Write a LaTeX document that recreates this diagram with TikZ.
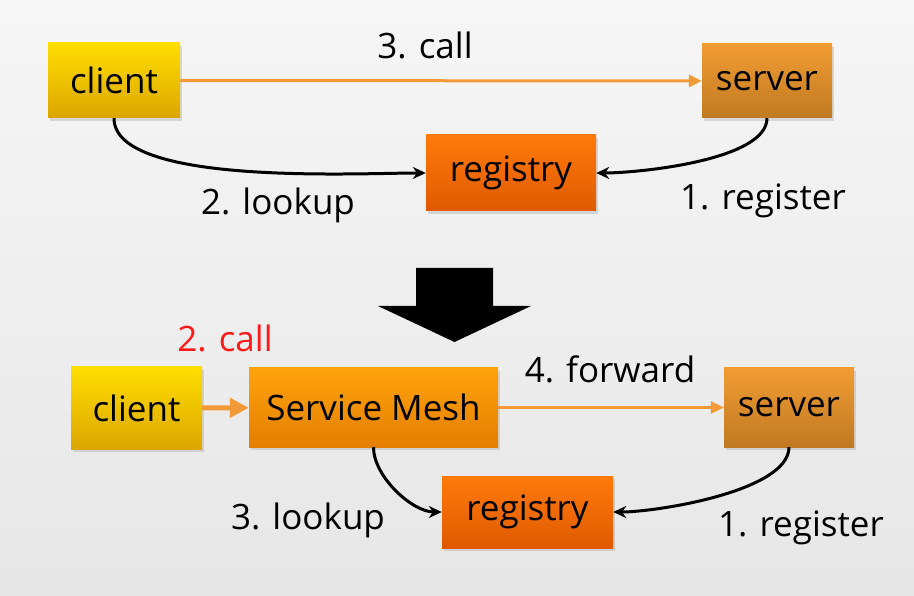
\documentclass[tikz,border=0pt]{standalone}
\usepackage{fontspec}
\setmainfont{Open Sans}
\usetikzlibrary{arrows.meta,shadows}

\definecolor{clientyel}{HTML}{FFDE00}
\definecolor{clientdark}{HTML}{DBA600}
\definecolor{servertop}{HTML}{F19C33}
\definecolor{serverbot}{HTML}{C07A22}
\definecolor{regtop}{HTML}{FF7A0A}
\definecolor{regbot}{HTML}{DF5A00}
\definecolor{meshtop}{HTML}{FFA30C}
\definecolor{meshbot}{HTML}{E47E00}
\definecolor{callorange}{HTML}{F29A38}
\definecolor{callred}{HTML}{FF1A1A}

\tikzset{
  box/.style={inner sep=0pt, font=\fontsize{35}{40}\selectfont,
    drop shadow={opacity=0.25, shadow xshift=2pt, shadow yshift=-3pt}},
  clientbox/.style={box, top color=clientyel, bottom color=clientdark},
  serverbox/.style={box, top color=servertop, bottom color=serverbot},
  regbox/.style={box, top color=regtop, bottom color=regbot},
  meshbox/.style={box, top color=meshtop, bottom color=meshbot},
  lbl/.style={font=\fontsize{35}{40}\selectfont},
  callarrow/.style={draw=callorange, line width=3pt, -{Triangle[length=13pt,width=12pt]}},
  lookarrow/.style={draw=black, line width=3pt, -{Stealth[length=13pt,width=12pt]}},
}

\begin{document}
\begin{tikzpicture}[x=1pt, y=-1pt]
  \shade[top color=gray!7, bottom color=gray!19] (0,0) rectangle (914,596);
  \useasboundingbox (0,0) rectangle (914,596);

  % before: client asks the registry itself
  \node[clientbox, minimum width=132pt, minimum height=75pt] (client) at (114,80.5) {client};
  \node[serverbox, minimum width=130pt, minimum height=74pt] (server) at (767,81) {server};
  \node[regbox, minimum width=170pt, minimum height=76pt] (registry) at (511,173) {registry};
  \draw[callarrow] (client) -- (server);
  \draw[lookarrow] (client.south) to[out=-90, in=180, looseness=0.55] (registry.west);
  \draw[lookarrow] (server.south) to[out=-90, in=0, looseness=0.6] (registry.east);
  \node[lbl] (call) at (425,45) {3. call};
  \node[lbl] (lookup) at (278,205) {2. lookup};
  \node[lbl] (register) at (763,201) {1. register};

  % the big arrow down
  \fill[black] (416,268) -- (493,268) -- (493,306) -- (531,306) -- (454.5,342)
    -- (378,306) -- (416,306) -- cycle;

  % after: the mesh sits between client and server
  \node[clientbox, minimum width=131pt, minimum height=82pt] (client2) at (136.5,408) {client};
  \node[meshbox, minimum width=249pt, minimum height=79pt] (mesh) at (373.5,407.5) {Service Mesh};
  \node[serverbox, minimum width=130pt, minimum height=79pt] (server2) at (789,407.5) {server};
  \node[regbox, minimum width=171pt, minimum height=72pt] (registry2) at (527.5,512) {registry};
  \draw[callarrow, line width=5pt, -{Triangle[length=19pt,width=19pt]}] (client2) -- (mesh);
  \draw[callarrow] (mesh) -- (server2);
  \draw[lookarrow] (mesh.south) to[out=-90, in=180, looseness=0.8] (registry2.west);
  \draw[lookarrow] (server2.south) to[out=-90, in=0, looseness=0.6] (registry2.east);
  \node[lbl, text=callred] (call2) at (225,338) {2. call};
  \node[lbl] (forward) at (610,369) {4. forward};
  \node[lbl] (lookup2) at (308,520) {3. lookup};
  \node[lbl] (register2) at (801,528) {1. register};
\end{tikzpicture}
\end{document}
